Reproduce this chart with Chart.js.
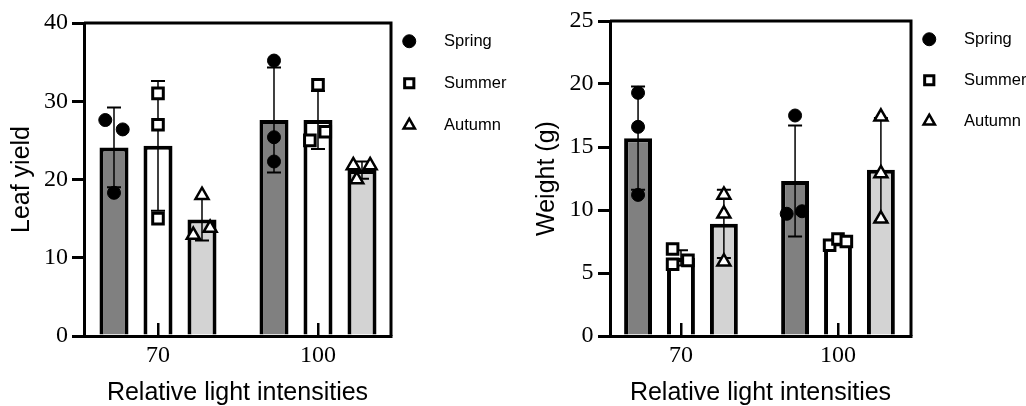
<!DOCTYPE html>
<html>
<head>
<meta charset="utf-8">
<script src="https://cdn.jsdelivr.net/npm/chart.js@4.4.1/dist/chart.umd.min.js"></script>
<style>
  html, body { margin: 0; padding: 0; background: #fff; overflow: hidden; }
  canvas { position: absolute; top: 0; }
  #leaf { left: 0; }
  #weight { left: 513px; }
</style>
</head>
<body>
<canvas id="leaf" width="513" height="406"></canvas>
<canvas id="weight" width="513" height="406"></canvas>
<script>
const groups = ['70', '100'];
const seasons = ['Spring', 'Summer', 'Autumn'];

// leaf yield - replicates per light level, plus bar mean and SD
const leafSpring = [[27.6, 26.4, 18.3], [35.2, 25.4, 22.3]];
const leafSummer = [[31.0, 27.0, 15.0], [32.1, 25.0, 26.1]];
const leafAutumn = [[18.0, 12.9, 13.8], [21.8, 21.8, 20.0]];
const leafSpringMean = [24.1, 27.6];
const leafSummerMean = [24.3, 27.6];
const leafAutumnMean = [14.9, 21.2];
const leafSpringSd = [5.1, 6.7];
const leafSummerSd = [8.3, 3.7];
const leafAutumnSd = [2.7, 1.1];
const leafTicks = [0, 10, 20, 30, 40];

// weight (g)
const weightSpring = [[19.3, 16.6, 11.2], [17.5, 9.7, 9.9]];
const weightSummer = [[6.9, 5.7, 6.0], [7.2, 7.7, 7.5]];
const weightAutumn = [[11.2, 9.7, 5.9], [17.4, 12.9, 9.3]];
const weightSpringMean = [15.7, 12.3];
const weightSummerMean = [6.2, 7.45];
const weightAutumnMean = [8.9, 13.2];
const weightSpringSd = [4.1, 4.4];
const weightSummerSd = [0.6, 0.25];
const weightAutumnSd = [2.7, 4.1];
const weightTicks = [0, 5, 10, 15, 20, 25];

// horizontal scatter of the dots inside a bar, as a share of the bar width
const leafJitter = [
  [[-0.3, 0.3, 0], [0, 0, 0]],
  [[0, 0, 0], [0, -0.28, 0.25]],
  [[0, -0.3, 0.28], [-0.3, 0.28, -0.18]]
];
const weightJitter = [
  [[0, 0, 0], [0, -0.3, 0.25]],
  [[-0.3, -0.3, 0.25], [-0.3, 0, 0.3]],
  [[0, 0, 0], [0, 0, 0]]
];

const barFill = ['#808080', '#ffffff', '#d3d3d3'];
const marker = [
  { style: 'circle', r: 6.5, fill: '#000', bw: 1 },
  { style: 'rect', r: 7.5, fill: '#fff', bw: 3 },
  { style: 'triangle', r: 7.5, fill: '#fff', bw: 2.5 }
];

Chart.defaults.color = '#000';
Chart.defaults.font.family = 'Liberation Sans';

const errorBars = {
  id: 'errorBars',
  afterDatasetDraw(chart, args) {
    const ds = chart.data.datasets[args.index];
    if (!ds.sd) return;
    const y = chart.scales.y;
    const ctx = chart.ctx;
    ctx.save();
    ctx.strokeStyle = '#000';
    args.meta.data.forEach((bar, i) => {
      const m = ds.data[i].y;
      const top = y.getPixelForValue(m + ds.sd[i]);
      const bottom = y.getPixelForValue(m - ds.sd[i]);
      ctx.lineWidth = 1.5;
      ctx.beginPath();
      ctx.moveTo(bar.x, top);
      ctx.lineTo(bar.x, bottom);
      ctx.stroke();
      ctx.lineWidth = 2;
      ctx.beginPath();
      ctx.moveTo(bar.x - 7, top); ctx.lineTo(bar.x + 7, top);
      ctx.moveTo(bar.x - 7, bottom); ctx.lineTo(bar.x + 7, bottom);
      ctx.stroke();
    });
    ctx.restore();
  }
};

const frame = {
  id: 'frame',
  afterDraw(chart) {
    const { ctx, chartArea: a } = chart;
    ctx.save();
    ctx.strokeStyle = '#000';
    ctx.lineWidth = 3;
    ctx.beginPath();
    ctx.moveTo(a.left, a.top);
    ctx.lineTo(a.right, a.top);
    ctx.lineTo(a.right, a.bottom);
    ctx.stroke();
    ctx.restore();
  }
};

function makeChart(id, o) {
  const slot = o.catPct / 3;
  const datasets = [];
  // x is a linear axis over the group index; ticks sit on 0 and 1 and show 70 / 100
  seasons.forEach((name, s) => {
    datasets.push({
      type: 'bar', label: name, data: o.means[s].map((m, g) => ({ x: g, y: m })), sd: o.sd[s],
      backgroundColor: barFill[s], borderColor: '#000', borderWidth: 4,
      borderSkipped: 'start', categoryPercentage: o.catPct, barPercentage: o.barPct,
      order: 1
    });
  });
  seasons.forEach((name, s) => {
    const pts = [];
    o.points[s].forEach((reps, g) => {
      reps.forEach((v, k) => {
        pts.push({ x: g + (s - 1) * slot + o.jitter[s][g][k] * slot * o.barPct, y: v });
      });
    });
    datasets.push({
      type: 'scatter', label: name, data: pts, order: 0,
      pointStyle: marker[s].style, pointRadius: marker[s].r, pointHoverRadius: marker[s].r,
      backgroundColor: marker[s].fill, borderColor: '#000', pointBorderWidth: marker[s].bw
    });
  });

  return new Chart(document.getElementById(id), {
    type: 'bar',
    data: { datasets },
    plugins: [errorBars, frame],
    options: {
      responsive: false,
      animation: false,
      layout: { padding: { left: o.padLeft, top: o.padTop, right: 0, bottom: 0 } },
      plugins: {
        tooltip: { enabled: false },
        legend: {
          position: 'right',
          align: 'start',
          fullSize: false,
          maxWidth: o.legendWidth,
          labels: {
            usePointStyle: true,
            boxHeight: 9.2,
            padding: 10,
            color: '#000',
            font: { family: 'Liberation Sans', size: 16.5, lineHeight: o.legendLine },
            generateLabels(chart) {
              return Chart.defaults.plugins.legend.labels.generateLabels(chart)
                .map(item => Object.assign(item, { text: ['    ' + item.text] }));
            },
            filter: item => item.datasetIndex >= 3
          }
        }
      },
      scales: {
        x: {
          type: 'linear',
          offset: false,
          min: -o.xPadL,
          max: groups.length - 1 + o.xPadR,
          afterBuildTicks: axis => { axis.ticks = groups.map((g, i) => ({ value: i })); },
          grid: { offset: false, drawOnChartArea: false, tickLength: -13, lineWidth: 2.5, color: '#000', z: 1 },
          border: { color: '#000', width: 3, z: 1 },
          ticks: {
            color: '#000', padding: 18.6, font: { family: 'Liberation Serif', size: 24 },
            callback: v => groups[v]
          },
          title: {
            display: true, text: 'Relative light intensities', color: '#000',
            font: { family: 'Liberation Sans', size: 25 },
            padding: { top: -11, bottom: -2 }
          }
        },
        y: {
          stacked: false,
          min: o.ticks[0],
          max: o.ticks[o.ticks.length - 1],
          ticks: {
            stepSize: o.ticks[1] - o.ticks[0], color: '#000', padding: o.tickPad,
            font: { family: 'Liberation Serif', size: 24 }
          },
          grid: { drawOnChartArea: false, tickLength: 12, lineWidth: 3, color: '#000' },
          border: { color: '#000', width: 3 },
          title: {
            display: true, text: o.yTitle, color: '#000',
            font: { family: 'Liberation Sans', size: 25 },
            padding: { top: 6, bottom: 3 }
          }
        }
      }
    }
  });
}

makeChart('leaf', {
  yTitle: 'Leaf yield',
  points: [leafSpring, leafSummer, leafAutumn],
  means: [leafSpringMean, leafSummerMean, leafAutumnMean],
  sd: [leafSpringSd, leafSummerSd, leafAutumnSd],
  jitter: leafJitter,
  ticks: leafTicks,
  xPadL: 0.4625, xPadR: 0.4563,
  catPct: 0.825, barPct: 0.66,
  padLeft: 1, padTop: 23, tickPad: 4,
  legendWidth: 122, legendLine: '32px'
});

makeChart('weight', {
  yTitle: 'Weight (g)',
  points: [weightSpring, weightSummer, weightAutumn],
  means: [weightSpringMean, weightSummerMean, weightAutumnMean],
  sd: [weightSpringSd, weightSummerSd, weightAutumnSd],
  jitter: weightJitter,
  ticks: weightTicks,
  xPadL: 0.452, xPadR: 0.465,
  catPct: 0.82, barPct: 0.65,
  padLeft: 13, padTop: 21, tickPad: 4.5,
  legendWidth: 115, legendLine: '31px'
});
</script>
</body>
</html>
